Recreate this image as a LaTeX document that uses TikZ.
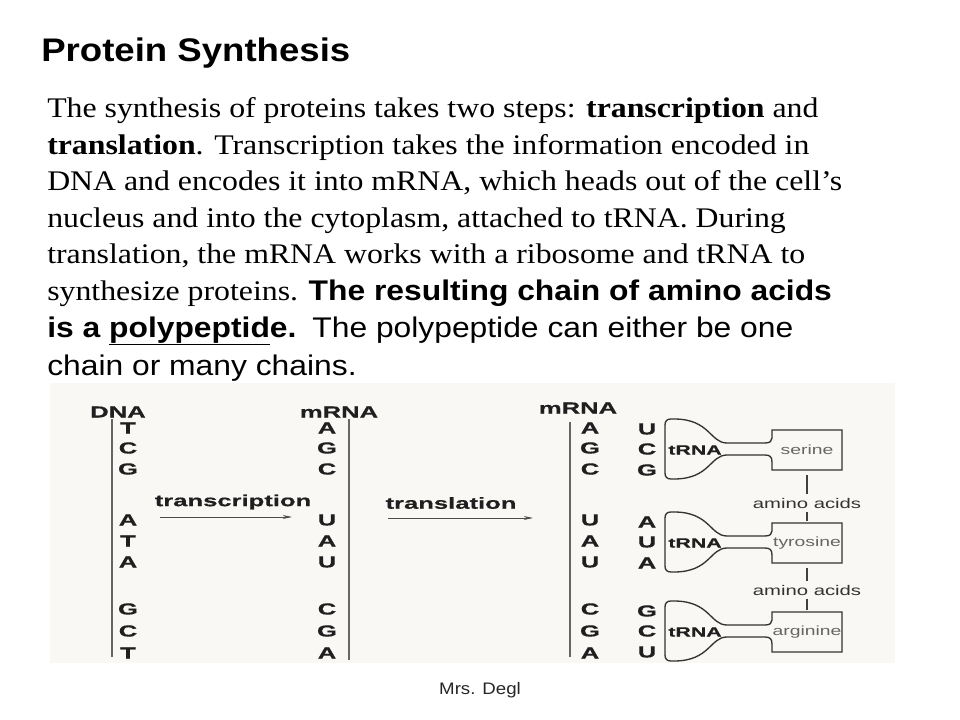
\documentclass[tikz,border=0pt]{standalone}
\usepackage{fontspec}
\setmainfont{Liberation Serif}[FakeStretch=1.12]
\setsansfont{Liberation Sans}[FakeStretch=1.12]
\newfontfamily\basefont{Liberation Sans}[FakeStretch=1.6,FakeBold=0.6]
\newfontfamily\namefont{Liberation Sans}[FakeStretch=1.45]
\usetikzlibrary{arrows.meta}
\definecolor{slidebg}{RGB}{250,248,245}
\tikzset{
  title/.style={inner sep=0pt,anchor=base west,font=\sffamily\bfseries\fontsize{24.5}{29}\selectfont},
  para/.style={inner sep=0pt,anchor=base west,font=\fontsize{21.3}{25}\selectfont},
  base/.style={inner sep=0pt,text=black!88,font=\basefont\bfseries\fontsize{12}{14}\selectfont},
  trnalabel/.style={inner sep=0pt,text=black!88,font=\basefont\bfseries\fontsize{10}{12}\selectfont},
  acidbox/.style={inner sep=0pt,minimum width=52.5pt,minimum height=30pt,text=black!60,font=\namefont\fontsize{10}{12}\selectfont},
  linklabel/.style={inner sep=3pt,text=black!80,font=\namefont\fontsize{10.5}{12}\selectfont},
  strand/.style={line width=2pt,black!60},
  outline/.style={line width=1pt,black!80},
  link/.style={line width=1.4pt,black!75},
  flow/.style={line width=0.6pt,black!70,-{Stealth[length=7pt,width=3pt]}},
  footer/.style={font=\sffamily\fontsize{12.5}{15}\selectfont,text=black!85}
}
\begin{document}
\begin{tikzpicture}[x=0.75pt,y=-0.75pt]
  \useasboundingbox (0,0) rectangle (960,720);
  \fill[slidebg] (50,383) rectangle (895,663);

  \node[title] (title) at (41,62) {Protein Synthesis};
  \node[para] (l1) at (47,118) {The synthesis of proteins takes two steps: \textbf{transcription} and};
  \node[para] (l2) at (47,154.5) {\textbf{translation}. Transcription takes the information encoded in};
  \node[para] (l3) at (47,191) {DNA and encodes it into mRNA, which heads out of the cell’s};
  \node[para] (l4) at (47,227.5) {nucleus and into the cytoplasm, attached to tRNA. During};
  \node[para] (l5) at (47,264) {translation, the mRNA works with a ribosome and tRNA to};
  \node[para] (l6) at (47,300.5) {synthesize proteins. {\sffamily\bfseries The resulting chain of amino acids}};
  \node[para] (l7) at (47,337) {{\sffamily\bfseries is a \underline{polypeptid}e.}\ \ {\sffamily The polypeptide can either be one}};
  \node[para] (l8) at (47,375) {{\sffamily chain or many chains.}};

  \draw[strand] (112,419) -- (112,657);
  \draw[strand] (349,419) -- (349,660);
  \draw[strand] (570,422) -- (570,657);
  \node[base] (dna) at (118,412) {DNA};
  \node[base] (mrna1) at (339,412) {mRNA};
  \node[base] (mrna2) at (578,408) {mRNA};
  \foreach \y/\d/\m [count=\j] in {428/T/A,448/C/G,469/G/C,520/A/U,541/T/A,562/A/U,609/G/C,631/C/G,653/T/A}{
    \node[base] (dna\j) at (128,\y) {\d};
    \node[base] (mra\j) at (327,\y) {\m};
    \node[base] (mrb\j) at (590,\y) {\m};
  }

  \node[base] (tclabel) at (233,502) {transcription};
  \coordinate (tcA) at (160,517);
  \coordinate (tcB) at (292,517);
  \draw[flow] (tcA) -- (tcB);
  \node[base] (tllabel) at (451,503) {translation};
  \coordinate (tlA) at (388,518);
  \coordinate (tlB) at (533,518);
  \draw[flow] (tlA) -- (tlB);

  \foreach \cy/\acid/\ca/\cb/\cc [count=\i] in {449/serine/U/C/G,542/tyrosine/A/U/A,631/arginine/G/C/U}{
    \begin{scope}[shift={(665,\cy)}]
      \node[acidbox] (acid\i) at (142,1) {\acid};
      \node[trnalabel] (trna\i) at (30,1) {tRNA};
      \node[base] (anti\i a) at (-18,-20) {\ca};
      \node[base] (anti\i b) at (-18,0) {\cb};
      \node[base] (anti\i c) at (-18,21) {\cc};
      \draw[outline] (107,-11) -- (107,-19) -- (177,-19) -- (177,21) -- (107,21) -- (107,13)
        .. controls (107,8) and (105,6) .. (100,6) -- (62,6)
        .. controls (45,6) and (45,30) .. (9,30) -- (6,30)
        .. controls (2,30) and (0,28) .. (0,24) -- (0,-24)
        .. controls (0,-28) and (2,-30) .. (6,-30) -- (9,-30)
        .. controls (45,-30) and (45,-6) .. (62,-6) -- (100,-6)
        .. controls (105,-6) and (107,-8) .. (107,-11);
    \end{scope}
  }

  \node[linklabel] (amino1) at (807,503) {amino acids};
  \node[linklabel] (amino2) at (807,590) {amino acids};
  \draw[link,shorten <=3.5pt] (acid1) -- (amino1);
  \draw[link,shorten >=1.5pt] (amino1) -- (acid2);
  \draw[link,shorten <=3.5pt] (acid2) -- (amino2);
  \draw[link,shorten >=1.5pt] (amino2) -- (acid3);

  \node[footer] (footer) at (480,690) {Mrs. Degl};
\end{tikzpicture}
\end{document}
